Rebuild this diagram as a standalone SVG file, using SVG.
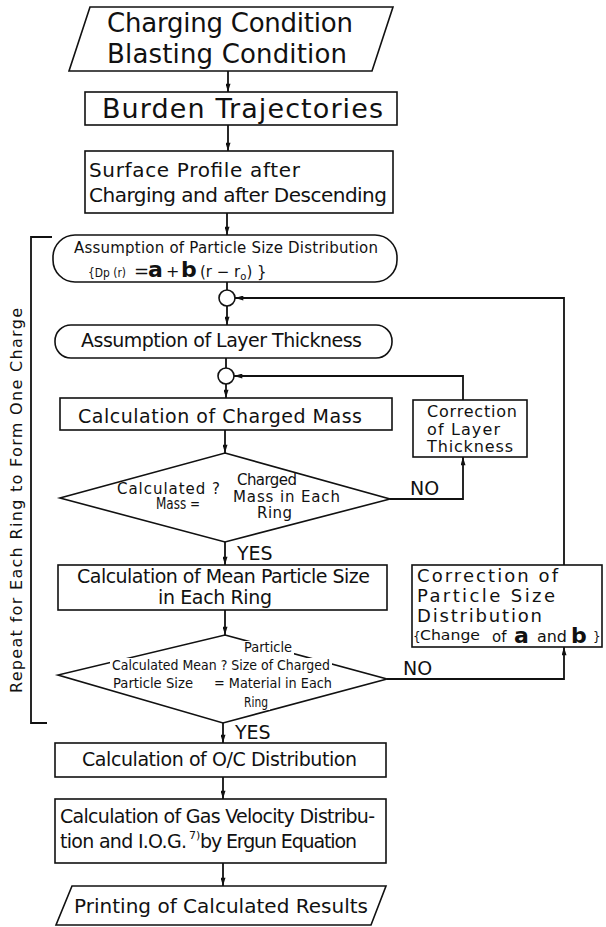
<svg xmlns="http://www.w3.org/2000/svg" width="606" height="927" viewBox="0 0 606 927">
<style>
.bx{fill:#fff;stroke:#111;stroke-width:1.6}
.ln{fill:none;stroke:#111;stroke-width:1.8}
.ar{fill:none;stroke:#111;stroke-width:1.8;marker-end:url(#ah)}
text{font-family:"DejaVu Sans","Liberation Sans",Arial,sans-serif;fill:#111}
.t27{font-size:27px}
.t26{font-size:26px}
.t20{font-size:20px}
.t19{font-size:19px}
.t18{font-size:18px}
.t16{font-size:16px}
.t15{font-size:15px}
.t14{font-size:14px}
.lab{font-size:19px}
.mask{fill:#fff;stroke:none}
</style>
<defs>
<marker id="ah" viewBox="0 0 10 6" refX="10" refY="3" markerWidth="9" markerHeight="5" orient="auto" markerUnits="userSpaceOnUse">
<path d="M0,0 L10,3 L0,6 z" fill="#111"/>
</marker>
</defs>
<rect width="606" height="927" fill="#fff"/>

<g id="connectors">
<line class="ar" x1="228" y1="71" x2="228" y2="92"/>
<line class="ar" x1="228" y1="125" x2="228" y2="151"/>
<line class="ar" x1="227" y1="213" x2="227" y2="235"/>
<line class="ln" x1="227" y1="282" x2="227" y2="290"/>
<line class="ar" x1="227" y1="306" x2="227" y2="325"/>
<line class="ln" x1="226" y1="358" x2="226" y2="368"/>
<line class="ar" x1="226" y1="384" x2="226" y2="398"/>
<line class="ar" x1="225" y1="430" x2="225" y2="453"/>
<line class="ar" x1="225" y1="542" x2="225" y2="565"/>
<line class="ar" x1="225" y1="610" x2="225" y2="635"/>
<line class="ar" x1="223" y1="723" x2="223" y2="743"/>
<line class="ar" x1="223" y1="777" x2="223" y2="799"/>
<line class="ar" x1="223" y1="863" x2="223" y2="886"/>
<polyline class="ar" points="390,499 463,499 463,457"/>
<polyline class="ar" points="463,400 463,376 234,376"/>
<polyline class="ar" points="387,679 564,679 564,647"/>
<polyline class="ar" points="564,565 564,298 235,298"/>
<text class="lab" x="410" y="495">NO</text>
<text class="lab" x="403" y="675">NO</text>
<text class="lab" x="237" y="560">YES</text>
<text class="lab" x="235" y="739">YES</text>
</g>

<g id="bracket">
<polyline class="ln" points="52,237 31,237 31,723 47,723"/>
<text class="t16" transform="translate(22,693) rotate(-90)" textLength="385" lengthAdjust="spacing">Repeat for Each Ring to Form One Charge</text>
</g>

<g id="input">
<polygon class="bx" points="90,7 393,7 372,71 69,71"/>
<text class="t26" x="107" y="32" textLength="246">Charging Condition</text>
<text class="t26" x="107" y="63" textLength="240">Blasting Condition</text>
</g>

<g id="burden">
<rect class="bx" x="85" y="92" width="312" height="33"/>
<text class="t27" x="102" y="118" textLength="281">Burden Trajectories</text>
</g>

<g id="surface">
<rect class="bx" x="85" y="151" width="308" height="62"/>
<text class="t20" x="89" y="177" textLength="211">Surface Profile after</text>
<text class="t20" x="89" y="202" textLength="298">Charging and after Descending</text>
</g>

<g id="assume-psd">
<rect class="bx" x="53" y="235" width="344" height="47" rx="22" ry="22"/>
<text class="t15" x="74" y="253" textLength="304">Assumption of Particle Size Distribution</text>
<text x="88" y="277" font-size="13" textLength="38" lengthAdjust="spacingAndGlyphs">{Dp (r)</text>
<text x="134" y="277" font-size="18">=</text>
<text x="148" y="277" font-size="22" font-weight="bold">a</text>
<text x="166" y="277" font-size="16">+</text>
<text x="181" y="277" font-size="22" font-weight="bold">b</text>
<text x="200" y="277" font-size="15">(r − r<tspan font-size="10" dy="3">o</tspan><tspan dy="-3">) }</tspan></text>
</g>

<g id="junction1">
<circle class="bx" cx="227" cy="298" r="8"/>
</g>

<g id="assume-layer">
<rect class="bx" x="55" y="325" width="337" height="33" rx="16" ry="16"/>
<text class="t19" x="81" y="347" textLength="281">Assumption of Layer Thickness</text>
</g>

<g id="junction2">
<circle class="bx" cx="226" cy="376" r="8"/>
</g>

<g id="calc-mass">
<rect class="bx" x="60" y="398" width="332" height="32"/>
<text class="t19" x="78" y="423" textLength="284">Calculation of Charged Mass</text>
</g>

<g id="decision-mass">
<polygon class="bx" points="225,453 390,499 225,542 60,498"/>
<text class="t15" x="117" y="494" textLength="103">Calculated ?</text>
<text class="t15" x="156" y="509" textLength="44" lengthAdjust="spacingAndGlyphs">Mass =</text>
<text class="t15" x="237" y="485" textLength="60">Charged</text>
<text class="t15" x="233" y="502" textLength="107">Mass in Each</text>
<text class="t15" x="257" y="518" textLength="35">Ring</text>
</g>

<g id="correct-layer">
<rect class="bx" x="413" y="400" width="114" height="57"/>
<text class="t16" x="427" y="417" textLength="90">Correction</text>
<text class="t16" x="427" y="435" textLength="73">of Layer</text>
<text class="t16" x="427" y="452" textLength="86">Thickness</text>
</g>

<g id="calc-mean">
<rect class="bx" x="58" y="565" width="329" height="45"/>
<text class="t19" x="77" y="583" textLength="293">Calculation of Mean Particle Size</text>
<text class="t19" x="158" y="604" textLength="114">in Each Ring</text>
</g>

<g id="decision-size">
<polygon class="bx" points="225,635 387,679 223,723 58,675"/>
<rect class="mask" x="242" y="641" width="52" height="15"/>
<rect class="mask" x="110" y="658" width="222" height="15"/>
<rect class="mask" x="242" y="695" width="28" height="15"/>
<text class="t14" x="244" y="652" textLength="48" lengthAdjust="spacingAndGlyphs">Particle</text>
<text class="t14" x="112" y="670" textLength="218" lengthAdjust="spacingAndGlyphs">Calculated Mean ? Size of Charged</text>
<text class="t14" x="113" y="688" textLength="80" lengthAdjust="spacingAndGlyphs">Particle Size</text>
<text class="t14" x="214" y="688" textLength="118" lengthAdjust="spacingAndGlyphs">= Material in Each</text>
<text class="t14" x="244" y="707" textLength="24" lengthAdjust="spacingAndGlyphs">Ring</text>
</g>

<g id="correct-psd">
<rect class="bx" x="412" y="565" width="190" height="82"/>
<text class="t18" x="417" y="582" textLength="141">Correction of</text>
<text class="t18" x="417" y="602" textLength="138">Particle Size</text>
<text class="t18" x="417" y="622" textLength="125">Distribution</text>
<text x="413" y="641" font-size="12">{</text>
<text x="420" y="640" font-size="14" textLength="60" lengthAdjust="spacingAndGlyphs">Change</text>
<text x="492" y="642" font-size="15">of</text>
<text x="514" y="643" font-size="22" font-weight="bold">a</text>
<text x="537" y="642" font-size="15" textLength="30" lengthAdjust="spacingAndGlyphs">and</text>
<text x="571" y="643" font-size="22" font-weight="bold">b</text>
<text x="593" y="641" font-size="12">}</text>
</g>

<g id="calc-oc">
<rect class="bx" x="55" y="743" width="331" height="34"/>
<text class="t19" x="82" y="766" textLength="275">Calculation of O/C Distribution</text>
</g>

<g id="calc-gas">
<rect class="bx" x="55" y="799" width="331" height="64"/>
<text class="t19" x="60" y="823" textLength="315">Calculation of Gas Velocity Distribu-</text>
<text class="t19" x="60" y="848" textLength="127">tion and I.O.G.</text>
<text x="189" y="839" font-size="11">7)</text>
<text class="t19" x="200" y="848" textLength="157">by Ergun Equation</text>
</g>

<g id="output">
<polygon class="bx" points="72,886 386,886 371,925 56,925"/>
<text class="t20" x="74" y="913" textLength="294">Printing of Calculated Results</text>
</g>
</svg>
